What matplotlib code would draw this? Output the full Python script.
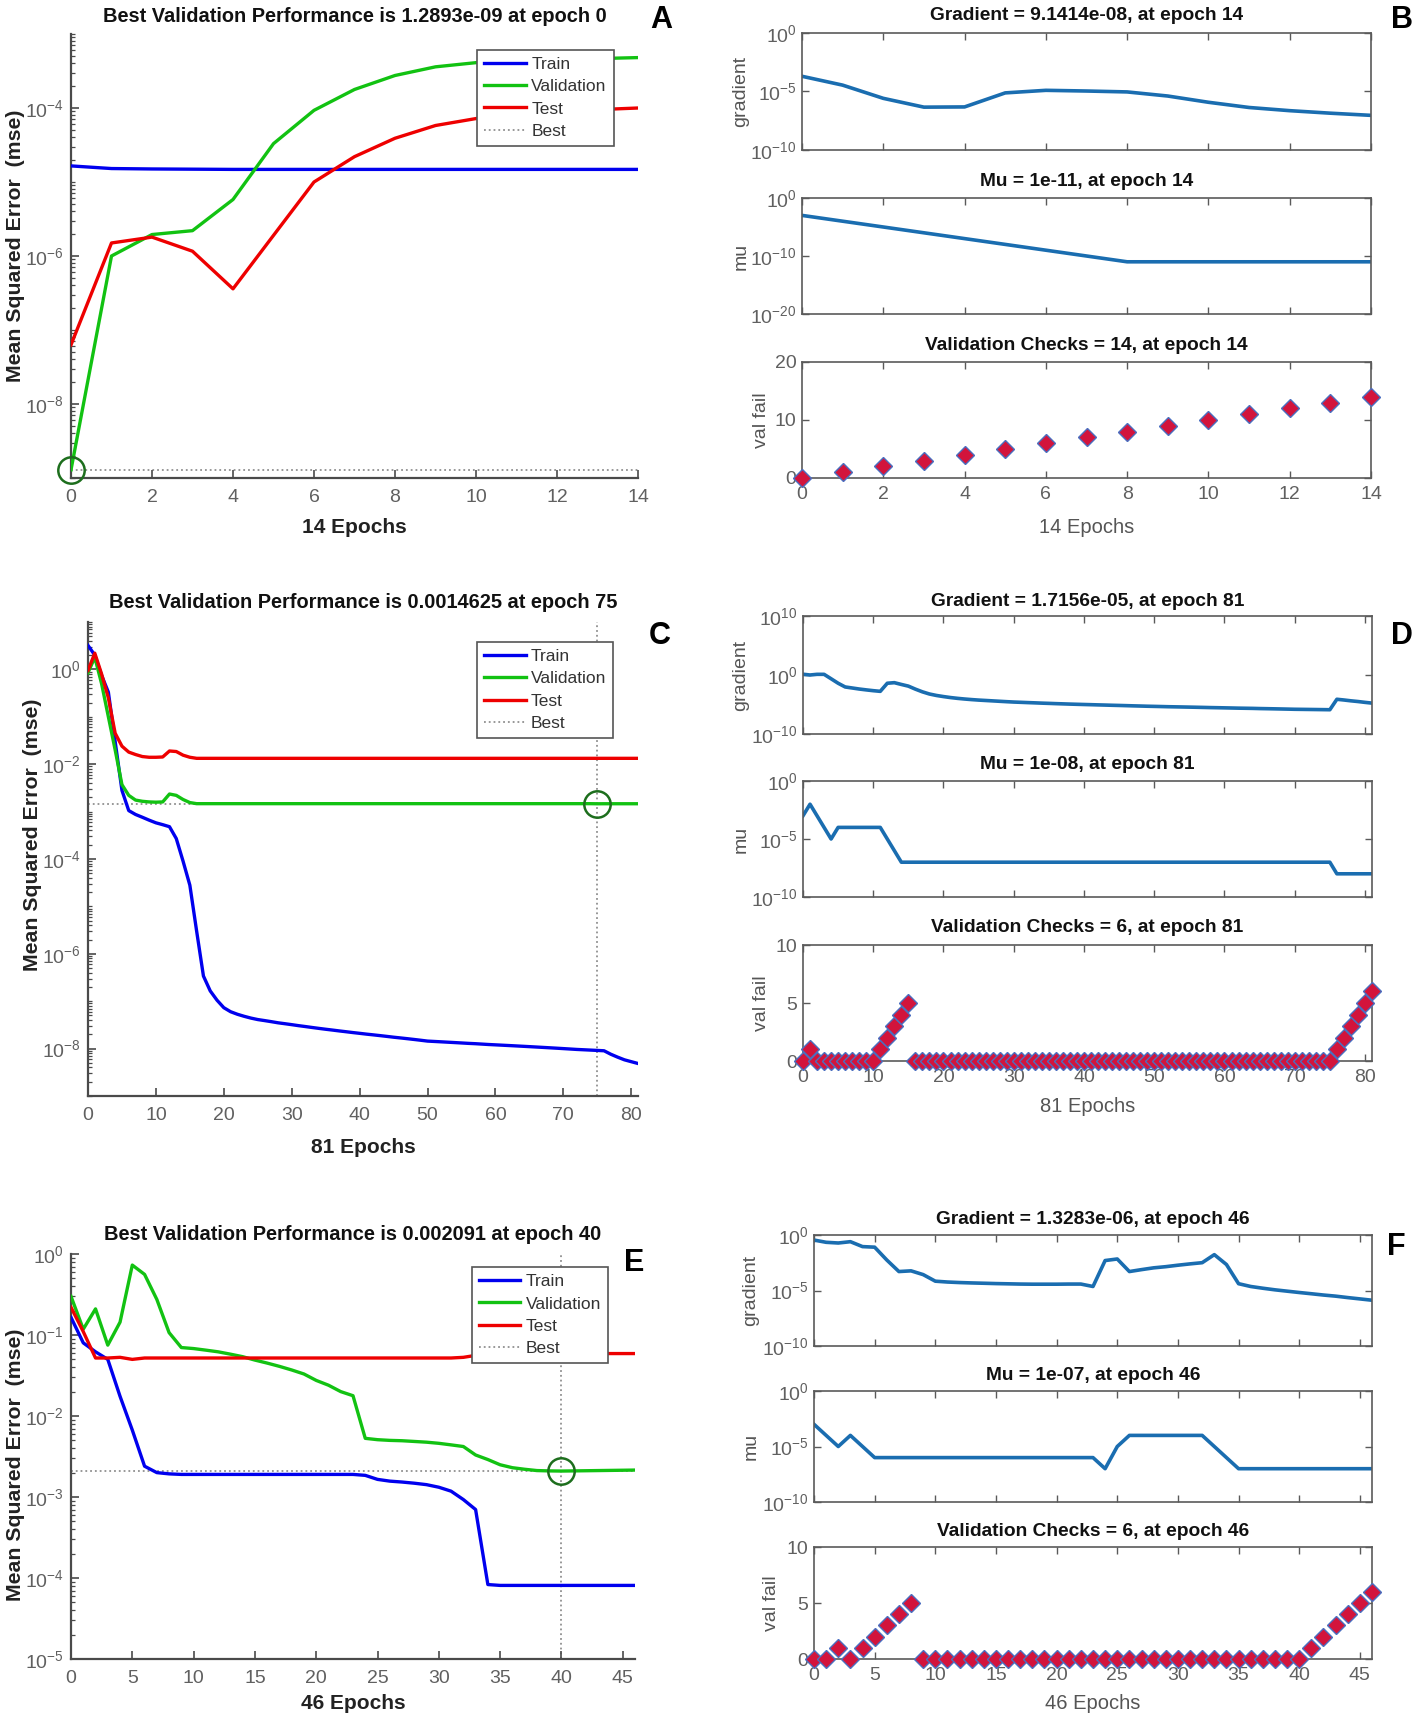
import numpy as np
import matplotlib
matplotlib.use("Agg")
import matplotlib.pyplot as plt
from matplotlib.ticker import FixedLocator, FuncFormatter, NullFormatter, LogLocator
from matplotlib.lines import Line2D

plt.rcParams['font.family'] = ['Liberation Sans', 'DejaVu Sans']
plt.rcParams['mathtext.fontset'] = 'custom'
plt.rcParams['mathtext.rm'] = 'Liberation Sans'
plt.rcParams['mathtext.it'] = 'Liberation Sans:italic'
plt.rcParams['mathtext.bf'] = 'Liberation Sans:bold'
plt.rcParams['mathtext.default'] = 'regular'

# ---------------- DATA ----------------
# Panel A (14 epochs)
trainA = [1.65e-5, 1.52e-5, 1.50e-5, 1.49e-5, 1.48e-5, 1.48e-5, 1.48e-5, 1.48e-5,
          1.48e-5, 1.48e-5, 1.48e-5, 1.48e-5, 1.48e-5, 1.48e-5, 1.48e-5]
valA = [1.2893e-9, 1.0e-6, 1.95e-6, 2.2e-6, 5.8e-6, 3.3e-5, 9.3e-5, 1.78e-4,
        2.75e-4, 3.6e-4, 4.1e-4, 4.3e-4, 4.5e-4, 4.65e-4, 4.8e-4]
testA = [6.3e-8, 1.5e-6, 1.8e-6, 1.16e-6, 3.6e-7, 1.9e-6, 1.0e-5, 2.2e-5,
         3.9e-5, 5.8e-5, 7.2e-5, 8.1e-5, 8.8e-5, 9.5e-5, 1.0e-4]
bestA_epoch, bestA_val = 0, 1.2893e-9

# Panel B
gradB = [2.0e-4, 3.5e-5, 2.6e-6, 4.6e-7, 4.8e-7, 7.6e-6, 1.26e-5, 1.1e-5,
         9.2e-6, 4.1e-6, 1.2e-6, 4.3e-7, 2.3e-7, 1.4e-7, 9.1414e-8]
muB = [1e-3, 1e-4, 1e-5, 1e-6, 1e-7, 1e-8, 1e-9, 1e-10, 1e-11,
       1e-11, 1e-11, 1e-11, 1e-11, 1e-11, 1e-11]
valfailB = [0, 1, 2, 3, 4, 5, 6, 7, 8, 9, 10, 11, 12, 13, 14]

# Panel C (81 epochs)
trainC = ([3.2, 2.0, 0.75, 0.33, 0.03, 2.8e-3, 1.05e-3, 8.7e-4, 7.6e-4, 6.6e-4,
           5.8e-4, 5.3e-4, 4.8e-4, 2.7e-4, 9.0e-5, 2.8e-5, 3.0e-6, 3.4e-7, 1.65e-7, 1.05e-7,
           7.3e-8, 6.0e-8, 5.3e-8, 4.8e-8, 4.4e-8, 4.1e-8, 3.9e-8, 3.7e-8, 3.5e-8, 3.35e-8,
           3.2e-8, 3.05e-8, 2.92e-8, 2.79e-8, 2.67e-8, 2.56e-8, 2.46e-8, 2.36e-8, 2.27e-8, 2.18e-8,
           2.1e-8, 2.02e-8, 1.95e-8, 1.88e-8, 1.81e-8, 1.74e-8, 1.68e-8, 1.62e-8, 1.56e-8, 1.5e-8,
           1.44e-8, 1.415e-8, 1.39e-8, 1.365e-8, 1.34e-8, 1.315e-8, 1.29e-8, 1.27e-8, 1.245e-8, 1.22e-8,
           1.2e-8, 1.18e-8, 1.16e-8, 1.14e-8, 1.12e-8, 1.10e-8, 1.08e-8, 1.06e-8, 1.04e-8, 1.02e-8,
           1.0e-8, 0.98e-8, 0.96e-8, 0.945e-8, 0.93e-8, 0.915e-8, 0.90e-8, 7.6e-9, 6.6e-9, 5.8e-9,
           5.3e-9, 4.85e-9])
valC = ([0.85, 1.8, 0.5, 0.1, 0.02, 3.7e-3, 2.2e-3, 1.75e-3, 1.65e-3, 1.6e-3,
         1.58e-3, 1.6e-3, 2.35e-3, 2.2e-3, 1.8e-3, 1.55e-3] + [1.47e-3] * 59 +
        [1.4625e-3] + [1.465e-3] * 6)
testC = ([0.95, 2.2, 0.8, 0.25, 0.045, 0.024, 0.018, 0.016, 0.0145, 0.014,
          0.014, 0.0142, 0.019, 0.0185, 0.0155, 0.014] + [0.0133] * 66)
bestC_epoch, bestC_val = 75, 1.4625e-3

# Panel D
gradD = ([1.35, 1.0, 1.3, 1.3, 0.23, 0.04, 9.4e-3, 6.3e-3, 4.2e-3, 3.0e-3,
          2.2e-3, 1.7e-3, 0.04, 0.05, 0.025, 0.013, 4.0e-3, 1.4e-3, 6.0e-4, 3.4e-4,
          2.2e-4, 1.5e-4, 1.1e-4, 8.5e-5, 6.8e-5, 5.6e-5, 4.8e-5, 4.1e-5, 3.5e-5, 3.0e-5,
          2.6e-5, 2.35e-5, 2.1e-5, 1.9e-5, 1.7e-5, 1.55e-5, 1.4e-5, 1.28e-5, 1.17e-5, 1.08e-5,
          1.0e-5, 9.3e-6, 8.6e-6, 8.0e-6, 7.4e-6, 6.9e-6, 6.4e-6, 5.9e-6, 5.5e-6, 5.1e-6,
          4.8e-6, 4.5e-6, 4.2e-6, 4.0e-6, 3.8e-6, 3.6e-6, 3.4e-6, 3.2e-6, 3.0e-6, 2.85e-6,
          2.7e-6, 2.55e-6, 2.4e-6, 2.3e-6, 2.2e-6, 2.05e-6, 1.95e-6, 1.85e-6, 1.75e-6, 1.65e-6,
          1.55e-6, 1.5e-6, 1.45e-6, 1.4e-6, 1.35e-6, 1.3e-6, 7.7e-5, 5.8e-5, 4.2e-5, 3.2e-5,
          2.3e-5, 1.7156e-5])
muD = ([1e-3, 1e-2, 1e-3, 1e-4, 1e-5] + [1e-4] * 7 + [1e-5, 1e-6] + [1e-7] * 62 + [1e-8] * 6)
valfailD = ([0, 1] + [0] * 9 + [1, 2, 3, 4, 5] + [0] * 60 + [1, 2, 3, 4, 5, 6])

# Panel E (46 epochs)
trainE = ([0.165, 0.08, 0.062, 0.05, 0.0175, 6.7e-3, 2.4e-3, 2.0e-3, 1.93e-3] +
          [1.9e-3] * 15 + [1.85e-3, 1.65e-3, 1.57e-3, 1.53e-3, 1.48e-3, 1.42e-3, 1.32e-3,
                           1.18e-3, 9.3e-4, 7.0e-4, 8.3e-5] + [8.1e-5] * 12)
valE = [0.3, 0.118, 0.21, 0.075, 0.144, 0.73, 0.56, 0.275, 0.107, 0.07,
        0.068, 0.065, 0.062, 0.058, 0.054, 0.049, 0.045, 0.041, 0.037, 0.033,
        0.0275, 0.024, 0.02, 0.0178, 5.3e-3, 5.1e-3, 5.0e-3, 4.95e-3, 4.85e-3, 4.75e-3,
        4.6e-3, 4.4e-3, 4.2e-3, 3.3e-3, 2.9e-3, 2.5e-3, 2.3e-3, 2.2e-3, 2.12e-3, 2.1e-3,
        2.091e-3, 2.1e-3, 2.11e-3, 2.12e-3, 2.13e-3, 2.14e-3, 2.15e-3]
testE = ([0.22, 0.11, 0.052, 0.052, 0.053, 0.05, 0.052] + [0.052] * 25 +
         [0.053, 0.056, 0.058] + [0.059] * 12)
bestE_epoch, bestE_val = 40, 0.002091

# Panel F
gradF = [0.35, 0.22, 0.19, 0.25, 0.09, 0.08, 5.6e-3, 5.1e-4, 5.9e-4, 2.7e-4,
         6.9e-5, 5.8e-5, 5.2e-5, 4.8e-5, 4.5e-5, 4.2e-5, 4.0e-5, 3.8e-5, 3.7e-5, 3.7e-5,
         3.7e-5, 3.8e-5, 3.8e-5, 2.3e-5, 5.0e-3, 6.9e-3, 5.1e-4, 7.6e-4, 1.1e-3, 1.4e-3,
         1.9e-3, 2.5e-3, 3.2e-3, 0.017, 2.2e-3, 4.1e-5, 2.3e-5, 1.6e-5, 1.15e-5, 8.7e-6,
         6.6e-6, 5.1e-6, 3.9e-6, 3.1e-6, 2.3e-6, 1.75e-6, 1.3283e-6]
muF = ([1e-3, 1e-4, 1e-5, 1e-4, 1e-5] + [1e-6] * 19 + [1e-7, 1e-5] + [1e-4] * 7 +
       [1e-5, 1e-6] + [1e-7] * 12)
valfailF = ([0, 0, 1, 0, 1, 2, 3, 4, 5] + [0] * 32 + [1, 2, 3, 4, 5, 6])

# ---------------- LAYOUT ----------------
W, H = 1418, 1717
fig = plt.figure(figsize=(W / 100, H / 100), dpi=100)
fig.patch.set_facecolor('white')

TICKC = '#606060'
SPINEC = '#4a4a4a'


def rect(x0, y0, x1, y1):
    return [x0 / W, 1 - y1 / H, (x1 - x0) / W, (y1 - y0) / H]


def logfmt(v, pos):
    return r'$10^{%d}$' % int(round(np.log10(v)))


def perf_panel(box, train, val, test, best_ep, best_v, yexps, ylim, xticks, title,
               title_y, xlabel, xlabel_y, ylab_xy, letter, letter_xy, leg_anchor):
    ax = fig.add_axes(rect(*box))
    n = len(train) - 1
    x = np.arange(len(train))
    ax.plot([best_ep, best_ep], ylim, color='#909090', ls=':', lw=1.3, zorder=1)
    ax.plot([0, n], [best_v, best_v], color='#909090', ls=':', lw=1.3, zorder=1)
    ax.plot(x, train, color='#0000ee', lw=2.4, zorder=3)
    ax.plot(x, val, color='#12c212', lw=2.4, zorder=3)
    ax.plot(x, test, color='#ee0000', lw=2.4, zorder=3)
    ax.plot(best_ep, best_v, 'o', ms=19, mfc='none', mec='#1d6e1d', mew=1.8,
            clip_on=False, zorder=4)
    ax.set_yscale('log')
    ax.set_ylim(*ylim)
    ax.set_xlim(0, n)
    ax.yaxis.set_major_locator(FixedLocator([10.0 ** e for e in yexps]))
    ax.yaxis.set_major_formatter(FuncFormatter(logfmt))
    ax.yaxis.set_minor_locator(LogLocator(base=10, subs=np.arange(1, 10), numticks=200))
    ax.yaxis.set_minor_formatter(NullFormatter())
    ax.set_xticks(xticks)
    for s in ['top', 'right']:
        ax.spines[s].set_visible(False)
    for s in ['left', 'bottom']:
        ax.spines[s].set_color(SPINEC)
        ax.spines[s].set_linewidth(1.6)
    ax.tick_params(which='major', direction='in', length=6, width=1.2, colors=SPINEC,
                   labelcolor=TICKC, labelsize=14, pad=8)
    ax.tick_params(which='minor', direction='in', length=3, width=0.9, colors=SPINEC)
    ax.tick_params(axis='y', which='major', pad=5)
    cx = (box[0] + box[2]) / 2
    fig.text(cx / W, 1 - title_y / H, title, ha='center', va='center',
             fontsize=14.4, fontweight='bold', color='#111111')
    fig.text(cx / W, 1 - xlabel_y / H, xlabel, ha='center', va='center',
             fontsize=15, fontweight='bold', color='#222222')
    fig.text(ylab_xy[0] / W, 1 - ylab_xy[1] / H, 'Mean Squared Error  (mse)',
             rotation=90, ha='center', va='center', fontsize=15.3,
             fontweight='bold', color='#222222')
    fig.text(letter_xy[0] / W, 1 - letter_xy[1] / H, letter, ha='center', va='center',
             fontsize=22, fontweight='bold', color='black')
    handles = [Line2D([], [], color='#0000ee', lw=2.4),
               Line2D([], [], color='#12c212', lw=2.4),
               Line2D([], [], color='#ee0000', lw=2.4),
               Line2D([], [], color='#909090', ls=':', lw=1.3)]
    leg = ax.legend(handles, ['Train', 'Validation', 'Test', 'Best'], loc='upper right',
                    bbox_to_anchor=leg_anchor, fontsize=12.5, fancybox=False,
                    framealpha=1, edgecolor='#555555', handlelength=2.4,
                    handletextpad=0.3, borderpad=0.4, labelspacing=0.42,
                    borderaxespad=0)
    leg.get_frame().set_linewidth(1.2)
    for t in leg.get_texts():
        t.set_color('#333333')
    leg.set_zorder(5)
    return ax


def state_panel(boxes, titles, title_ys, grad, mu, vf, gexps, glim, mexps, mlim,
                vticks, vlim, xticks, xlabel, xlabel_y, ylab_xs, letter, letter_xy):
    n = len(grad) - 1
    x = np.arange(len(grad))
    axes = []
    for i, b in enumerate(boxes):
        ax = fig.add_axes(rect(*b))
        axes.append(ax)
        ax.set_xlim(0, n)
        ax.set_xticks(xticks)
        for s in ax.spines.values():
            s.set_color('#5a5a5a')
            s.set_linewidth(1.2)
        ax.tick_params(which='both', direction='in', top=True, right=True, length=5,
                       width=1.0, colors='#5a5a5a', labelcolor=TICKC, labelsize=14,
                       pad=6)
        ax.tick_params(axis='y', pad=4)
        if i < 2:
            ax.tick_params(labelbottom=False)
        cx = (b[0] + b[2]) / 2
        fig.text(cx / W, 1 - title_ys[i] / H, titles[i], ha='center', va='center',
                 fontsize=13.8, fontweight='bold', color='#111111')
        fig.text(ylab_xs[i] / W, 1 - ((b[1] + b[3]) / 2) / H,
                 ['gradient', 'mu', 'val fail'][i], rotation=90, ha='center',
                 va='center', fontsize=14, color='#555555')
    ax0, ax1, ax2 = axes
    ax0.plot(x, grad, color='#1a6db0', lw=2.6)
    ax0.set_yscale('log')
    ax0.set_ylim(*glim)
    ax0.yaxis.set_major_locator(FixedLocator([10.0 ** e for e in gexps]))
    ax0.yaxis.set_major_formatter(FuncFormatter(logfmt))
    ax0.yaxis.set_minor_locator(FixedLocator([]))
    ax1.plot(x, mu, color='#1a6db0', lw=2.6)
    ax1.set_yscale('log')
    ax1.set_ylim(*mlim)
    ax1.yaxis.set_major_locator(FixedLocator([10.0 ** e for e in mexps]))
    ax1.yaxis.set_major_formatter(FuncFormatter(logfmt))
    ax1.yaxis.set_minor_locator(FixedLocator([]))
    ax2.plot(x, vf, ls='none', marker='D', ms=9, mfc='#d2143c', mec='#4a6fc0',
             mew=1.0, clip_on=False, zorder=3)
    ax2.set_ylim(*vlim)
    ax2.set_yticks(vticks)
    b = boxes[2]
    cx = (b[0] + b[2]) / 2
    fig.text(cx / W, 1 - xlabel_y / H, xlabel, ha='center', va='center',
             fontsize=14.5, color='#555555')
    fig.text(letter_xy[0] / W, 1 - letter_xy[1] / H, letter, ha='center', va='center',
             fontsize=22, fontweight='bold', color='black')


# Panel A
perf_panel((71, 34, 638, 478), trainA, valA, testA, bestA_epoch, bestA_val,
           [-4, -6, -8], (1e-9, 1e-3), list(range(0, 15, 2)),
           'Best Validation Performance is 1.2893e-09 at epoch 0', 16,
           '14 Epochs', 527, (16, 246), 'A', (661, 20), (0.957, 0.965))
# Panel B
state_panel([(802, 33, 1371, 150), (802, 198, 1371, 314), (802, 362, 1371, 478)],
            ['Gradient = 9.1414e-08, at epoch 14', 'Mu = 1e-11, at epoch 14',
             'Validation Checks = 14, at epoch 14'], [16, 181, 345],
            gradB, muB, valfailB, [0, -5, -10], (1e-10, 1), [0, -10, -20], (1e-20, 1),
            [0, 10, 20], (0, 20), list(range(0, 15, 2)), '14 Epochs', 527,
            (741, 741, 761), 'B', (1402, 20))
# Panel C
perf_panel((88, 622, 638, 1096), trainC, valC, testC, bestC_epoch, bestC_val,
           [0, -2, -4, -6, -8], (1e-9, 1e1), list(range(0, 81, 10)),
           'Best Validation Performance is 0.0014625 at epoch 75', 603,
           '81 Epochs', 1147, (33, 835), 'C', (660, 636), (0.955, 0.958))
# Panel D
state_panel([(803, 616, 1372, 734), (803, 781, 1372, 897), (803, 945, 1372, 1061)],
            ['Gradient = 1.7156e-05, at epoch 81', 'Mu = 1e-08, at epoch 81',
             'Validation Checks = 6, at epoch 81'], [601, 764, 927],
            gradD, muD, valfailD, [10, 0, -10], (1e-10, 1e10), [0, -5, -10], (1e-10, 1),
            [0, 5, 10], (0, 10), list(range(0, 81, 10)), '81 Epochs', 1106,
            (741, 741, 761), 'D', (1402, 636))
# Panel E
perf_panel((71, 1254, 635, 1659), trainE, valE, testE, bestE_epoch, bestE_val,
           [0, -1, -2, -3, -4, -5], (1e-5, 1), list(range(0, 46, 5)),
           'Best Validation Performance is 0.002091 at epoch 40', 1234,
           '46 Epochs', 1703, (16, 1465), 'E', (634, 1263), (0.952, 0.968))
# Panel F
state_panel([(814, 1235, 1372, 1346), (814, 1391, 1372, 1502), (814, 1547, 1372, 1659)],
            ['Gradient = 1.3283e-06, at epoch 46', 'Mu = 1e-07, at epoch 46',
             'Validation Checks = 6, at epoch 46'], [1219, 1375, 1531],
            gradF, muF, valfailF, [0, -5, -10], (1e-10, 1), [0, -5, -10], (1e-10, 1),
            [0, 5, 10], (0, 10), list(range(0, 46, 5)), '46 Epochs', 1703,
            (751, 751, 771), 'F', (1396, 1247))

fig.savefig('out.png', dpi=100, facecolor='white')
